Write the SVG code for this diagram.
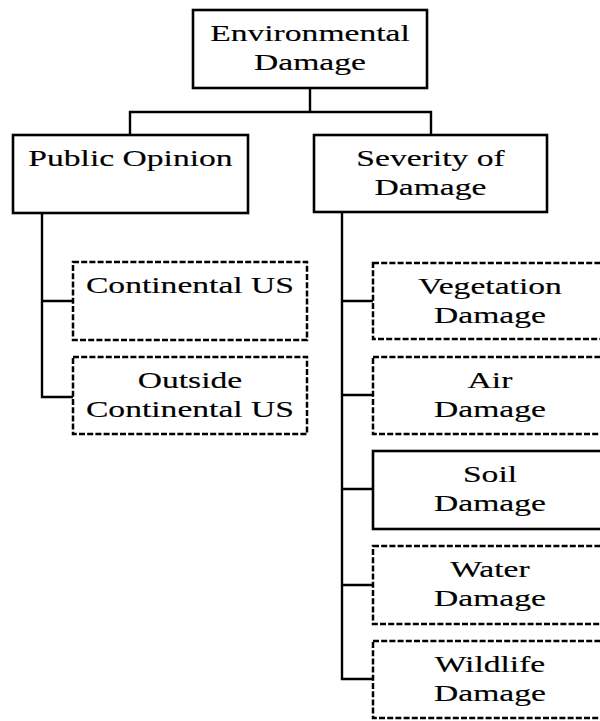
<svg xmlns="http://www.w3.org/2000/svg" width="600" height="721" viewBox="0 0 600 721">
<style>
.bg{fill:#fff}
.solid{fill:#fff;stroke:#000;stroke-width:2.6}
.dash{fill:#fff;stroke:#000;stroke-width:2.5;stroke-dasharray:6 2.2}
.conn{fill:none;stroke:#000;stroke-width:2.4}
.t{font-family:"Liberation Serif","Times New Roman",serif;font-size:24px;fill:#000;stroke:#000;stroke-width:0.15;text-anchor:middle}
</style>
<rect class="bg" x="0" y="0" width="600" height="721"/>
<g id="connectors">
<path class="conn" d="M310,88 V112 M130,135 V112 H431 V135"/>
<path class="conn" d="M42,213 V397 H73 M42,301 H73"/>
<path class="conn" d="M342,212 V679 H373 M342,301 H373 M342,395 H373 M342,489 H373 M342,585 H373"/>
</g>
<g id="environmental-damage">
<rect class="solid" x="193" y="10" width="234" height="78"/>
<text class="t" transform="scale(1.4,1)"><tspan x="221.43" y="41">Environmental</tspan><tspan x="221.43" y="70">Damage</tspan></text>
</g>
<g id="public-opinion">
<rect class="solid" x="13" y="135" width="235" height="78"/>
<text class="t" transform="scale(1.4,1)" x="93.21" y="166">Public Opinion</text>
</g>
<g id="severity-of-damage">
<rect class="solid" x="314" y="135" width="233" height="77"/>
<text class="t" transform="scale(1.4,1)"><tspan x="307.5" y="166">Severity of</tspan><tspan x="307.5" y="195">Damage</tspan></text>
</g>
<g id="continental-us">
<rect class="dash" x="73" y="262" width="234" height="78"/>
<text class="t" transform="scale(1.4,1)" x="135.71" y="293">Continental US</text>
</g>
<g id="outside-continental-us">
<rect class="dash" x="73" y="357" width="234" height="77"/>
<text class="t" transform="scale(1.4,1)"><tspan x="135.71" y="388">Outside</tspan><tspan x="135.71" y="417">Continental US</tspan></text>
</g>
<g id="vegetation-damage">
<rect class="dash" x="373" y="263" width="234" height="76"/>
<text class="t" transform="scale(1.4,1)"><tspan x="350" y="294">Vegetation</tspan><tspan x="350" y="323">Damage</tspan></text>
</g>
<g id="air-damage">
<rect class="dash" x="373" y="357" width="234" height="77"/>
<text class="t" transform="scale(1.4,1)"><tspan x="350" y="388">Air</tspan><tspan x="350" y="417">Damage</tspan></text>
</g>
<g id="soil-damage">
<rect class="solid" x="373" y="451" width="234" height="78"/>
<text class="t" transform="scale(1.4,1)"><tspan x="350" y="482">Soil</tspan><tspan x="350" y="511">Damage</tspan></text>
</g>
<g id="water-damage">
<rect class="dash" x="373" y="546" width="234" height="78"/>
<text class="t" transform="scale(1.4,1)"><tspan x="350" y="577">Water</tspan><tspan x="350" y="606">Damage</tspan></text>
</g>
<g id="wildlife-damage">
<rect class="dash" x="373" y="641" width="234" height="77"/>
<text class="t" transform="scale(1.4,1)"><tspan x="350" y="672">Wildlife</tspan><tspan x="350" y="701">Damage</tspan></text>
</g>
</svg>
